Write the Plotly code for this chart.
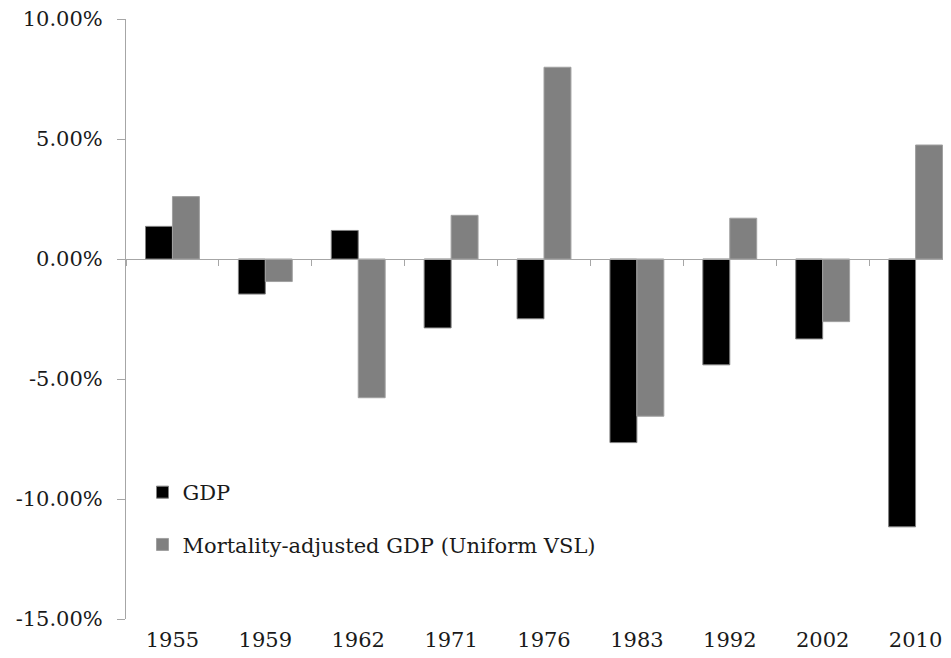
import plotly.graph_objects as go

years = ["1955", "1959", "1962", "1971", "1976", "1983", "1992", "2002", "2010"]
gdp = [1.36, -1.46, 1.19, -2.87, -2.49, -7.65, -4.41, -3.33, -11.16]
mort_adj = [2.60, -0.94, -5.78, 1.82, 7.99, -6.55, 1.70, -2.61, 4.75]
y_ticks = [-15, -10, -5, 0, 5, 10]
y_tick_labels = ["-15.00%", "-10.00%", "-5.00%", "0.00%", "5.00%", "10.00%"]

FONT = "DejaVu Serif"
TXT = "#1a1a1a"
AX = "#a6a6a6"
FS = 21

fig = go.Figure()
fig.add_trace(go.Bar(x=years, y=gdp, name="GDP", marker=dict(color="#000000", line=dict(color="#808080", width=1)),
                     legendgroup="a"))
fig.add_trace(go.Bar(x=years, y=mort_adj, name="Mortality-adjusted GDP (Uniform VSL)",
                     marker=dict(color="#808080", line=dict(color="#a0a0a0", width=1)), legendgroup="b"))
# helper empty trace to register the zero-line axis
fig.add_trace(go.Scatter(x=[], y=[], xaxis="x2", yaxis="y", showlegend=False, hoverinfo="skip"))

n = len(years)
xr = [-0.5, n - 0.5 - 11 / 92.9]
fig.update_layout(
    width=943, height=650,
    margin=dict(l=118, r=0, t=11, b=39),
    paper_bgcolor="white", plot_bgcolor="white",
    font=dict(family=FONT, size=FS, color=TXT),
    barmode="group", bargap=0.42, bargroupgap=0,
    showlegend=True,
    legend=dict(x=0.02, y=0.245, xanchor="left", yanchor="top", bgcolor="rgba(0,0,0,0)",
                tracegroupgap=22, font=dict(family=FONT, size=FS, color=TXT)),
    xaxis=dict(type="category", range=xr, showline=False, ticks="", showgrid=False, zeroline=False,
               tickfont=dict(family=FONT, size=FS, color=TXT), ticklabelstandoff=6,
               ticklabeloverflow="allow"),
    xaxis2=dict(overlaying="x", anchor="free", position=0.6, range=xr, showline=True, linecolor=AX,
                linewidth=1, ticks="outside", ticklen=6, tickcolor=AX, tickwidth=1,
                tickvals=[i - 0.5 for i in range(n)], showticklabels=False, showgrid=False, zeroline=False),
    yaxis=dict(range=[-15, 10], tickvals=y_ticks, ticktext=y_tick_labels, showline=True, linecolor=AX,
               linewidth=1, ticks="outside", ticklen=8, tickcolor=AX, showgrid=False, zeroline=False,
               tickfont=dict(family=FONT, size=FS, color=TXT), ticklabelstandoff=10,
               ticklabeloverflow="allow"),
)
fig.write_html("out.html")
